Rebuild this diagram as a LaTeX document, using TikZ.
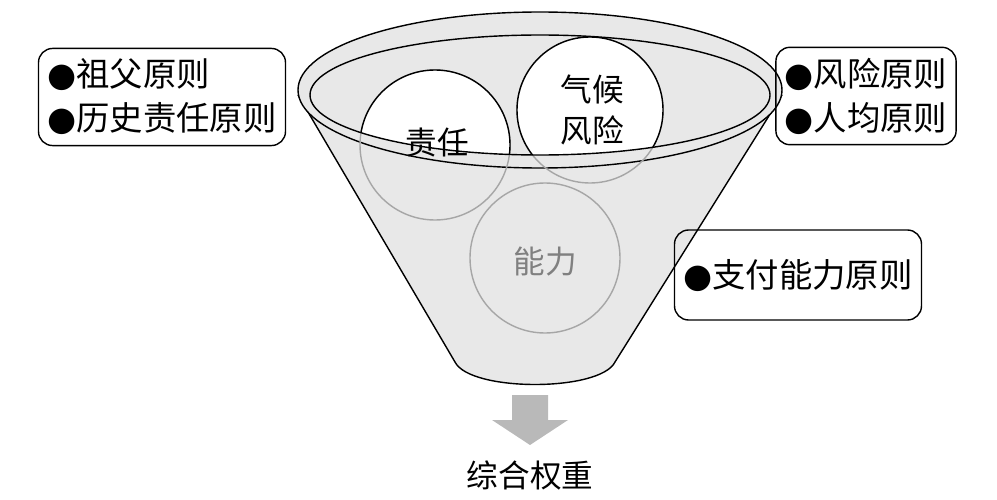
\documentclass[tikz,border=0pt]{standalone}
\usepackage{fontspec}
\setmainfont{Noto Sans CJK SC}
\newfontfamily\dotfont{DejaVu Sans}
\tikzset{
  funnel/.style={fill=gray!18,draw=black,thick},
  circ/.style={draw=gray!70,thick},
  box/.style={draw,thick,rounded corners=8pt,align=left,inner xsep=5pt,inner ysep=6pt,font=\fontsize{19}{25}\selectfont},
  lbl/.style={font=\fontsize{18}{23}\selectfont}
}
\newcommand{\dotitem}{{\dotfont ●}}
\begin{document}
\begin{tikzpicture}[x=0.02cm,y=-0.02cm]
\useasboundingbox (0,0) rectangle (997,500);
% funnel body
\draw[funnel] (298,95) -- (455,362) .. controls (470,392) and (600,392) .. (615,362) -- (782,95);
\draw[funnel] (540,90) ellipse (242 and 78);
\fill[gray!18] (540,95) ellipse (230 and 60);
% circles, grey outside the rim
\draw[circ] (435,145) circle (75);
\draw[circ] (590,110) circle (73);
\draw[circ] (545,258) circle (75);
% white parts inside the rim
\begin{scope}
  \clip (540,95) ellipse (230 and 60);
  \draw[fill=white,thick] (435,145) circle (75);
  \draw[fill=white,thick] (590,110) circle (73);
\end{scope}
\draw[thick] (540,95) ellipse (230 and 60);
\node[lbl] (zeren) at (437,143) {责任};
\node[lbl,align=center] (qihou) at (592,110) {气候\\风险};
\node[lbl,text=gray] (nengli) at (545,262) {能力};
% boxes
\node[box] (left) at (162,97) {\dotitem 祖父原则\\\dotitem 历史责任原则};
\node[box] (right) at (866,96) {\dotitem 风险原则\\\dotitem 人均原则};
\node[box,minimum height=1.8cm] (pay) at (798,275) {\dotitem 支付能力原则};
% result
\fill[gray!55] (512,395) -- (548,395) -- (548,420) -- (568,420) -- (530,445)
  -- (492,420) -- (512,420) -- cycle;
\coordinate (arr) at (530,445);
\node[lbl] (weight) at (530,475) {综合权重};
\end{tikzpicture}
\end{document}
